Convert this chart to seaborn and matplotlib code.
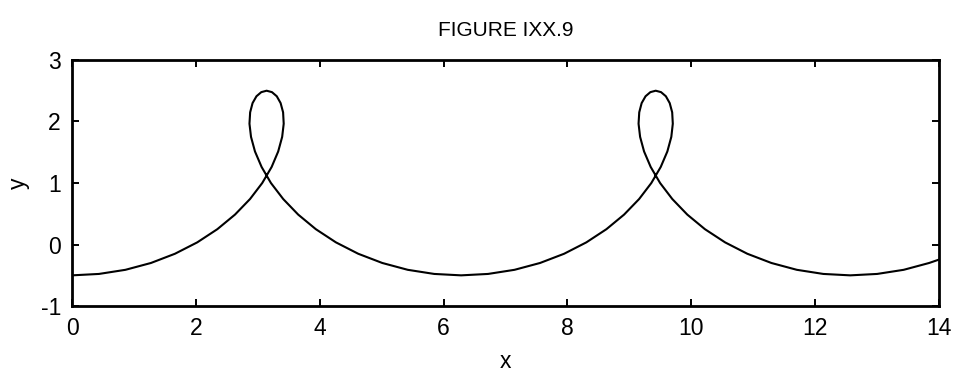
import matplotlib
matplotlib.use("Agg")
import matplotlib.pyplot as plt
import seaborn as sns
import pandas as pd

# curve points (two loops, in drawing order)
x_vals = [0.0, 0.435, 0.862, 1.274, 1.662, 2.022, 2.346, 2.631, 2.874, 3.071,
          3.223, 3.329, 3.393, 3.418, 3.408, 3.368, 3.306, 3.228, 3.142, 3.056,
          2.978, 2.915, 2.876, 2.865, 2.890, 2.954, 3.061, 3.212, 3.410, 3.652,
          3.937, 4.261, 4.621, 5.010, 5.421, 5.848,
          6.283, 6.718, 7.145, 7.557, 7.946, 8.305, 8.629, 8.914, 9.157, 9.354,
          9.506, 9.613, 9.677, 9.701, 9.691, 9.651, 9.589, 9.511, 9.425, 9.339,
          9.261, 9.198, 9.159, 9.148, 9.173, 9.237, 9.344, 9.496, 9.693, 9.935,
          10.220, 10.545, 10.904, 11.293, 11.704, 12.131,
          12.566, 13.001, 13.429, 13.840, 13.999]
y_vals = [-0.500, -0.477, -0.410, -0.299, -0.149, 0.036, 0.250, 0.487, 0.740, 1.000,
          1.261, 1.513, 1.750, 1.964, 2.149, 2.299, 2.410, 2.477, 2.500, 2.477,
          2.410, 2.299, 2.149, 1.964, 1.750, 1.513, 1.261, 1.000, 0.740, 0.487,
          0.250, 0.036, -0.149, -0.299, -0.410, -0.477,
          -0.500, -0.477, -0.410, -0.299, -0.149, 0.036, 0.250, 0.487, 0.740, 1.000,
          1.261, 1.513, 1.750, 1.964, 2.149, 2.299, 2.410, 2.477, 2.500, 2.477,
          2.410, 2.299, 2.149, 1.964, 1.750, 1.513, 1.261, 1.000, 0.740, 0.487,
          0.250, 0.036, -0.149, -0.299, -0.410, -0.477,
          -0.500, -0.477, -0.410, -0.299, -0.244]

x_ticks = [0, 2, 4, 6, 8, 10, 12, 14]
y_ticks = [-1, 0, 1, 2, 3]

df = pd.DataFrame({"x": x_vals, "y": y_vals})

sns.set_style("ticks")
plt.rcParams["font.family"] = ["Liberation Sans", "DejaVu Sans"]
plt.rcParams["axes.unicode_minus"] = False
plt.rcParams["text.color"] = "black"
plt.rcParams["axes.labelcolor"] = "black"

fig = plt.figure(figsize=(9.58, 3.77), dpi=100)
ax = fig.add_axes([0.0752, 0.188, 0.905, 0.653])

sns.lineplot(data=df, x="x", y="y", sort=False, estimator=None,
             color="black", linewidth=1.5, ax=ax)

ax.set_xlim(0, 14)
ax.set_ylim(-1, 3)
ax.set_xticks(x_ticks)
ax.set_yticks(y_ticks)
ax.tick_params(direction="in", length=5, width=1.4, top=True, right=True,
               labelsize=16.5, pad=8, colors="black")
for s in ax.spines.values():
    s.set_visible(True)
    s.set_linewidth(2)
    s.set_color("black")

ax.set_title("FIGURE IXX.9", fontsize=15, pad=17)
ax.set_xlabel("x", fontsize=16.5, labelpad=7)
ax.set_ylabel("y", fontsize=16.5, labelpad=8)

fig.savefig("out.png", dpi=100)
